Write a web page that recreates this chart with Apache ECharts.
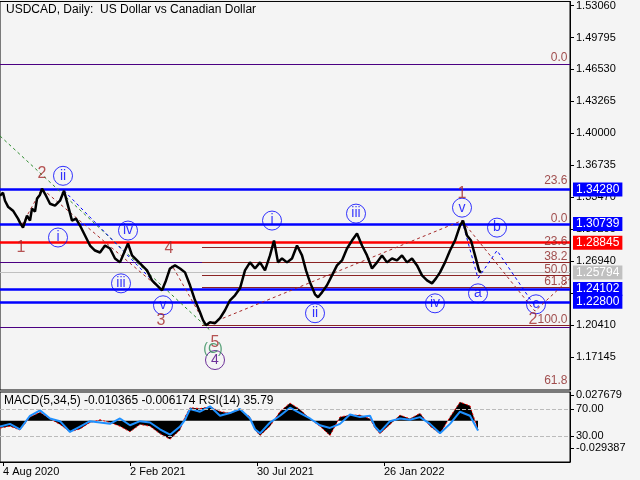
<!DOCTYPE html>
<html><head><meta charset="utf-8">
<script src="https://cdn.jsdelivr.net/npm/echarts@6/dist/echarts.min.js"></script>
<style>html,body{margin:0;background:#f4f4f4}#c{width:640px;height:480px}</style>
</head><body><div id="c"></div>
<script>
// bar index (daily bars) and close prices
const barIdx=[0,3,5,8,10,13,15,18,20,23,27,30,32,35,37,40,42,46,50,55,60,64,68,72,76,80,85,90,95,100,105,110,115,120,125,128,132,137,142,147,152,157,162,166,170,175,180,185,190,195,200,203,206,210,215,220,225,230,235,240,245,250,255,260,265,270,274,278,282,287,292,297,302,306,310,315,318,322,327,332,337,342,347,352,357,362,367,372,377,382,387,392,397,402,407,412,417,422,427,432,436,440,445,450,455,460,463,467,471,475,479,481];
const closes=[1.3364,1.3394,1.3313,1.3252,1.3262,1.3211,1.3191,1.3130,1.3089,1.3038,1.3160,1.3110,1.3232,1.3201,1.3333,1.3374,1.3435,1.3364,1.3282,1.3262,1.3313,1.3415,1.3262,1.3110,1.3130,1.3059,1.2957,1.2855,1.2804,1.2784,1.2855,1.2825,1.2723,1.2683,1.2804,1.2876,1.2754,1.2703,1.2652,1.2601,1.2499,1.2449,1.2398,1.2499,1.2621,1.2652,1.2621,1.2581,1.2449,1.2296,1.2174,1.2093,1.2042,1.2072,1.2062,1.2113,1.2194,1.2296,1.2347,1.2418,1.2601,1.2683,1.2621,1.2683,1.2601,1.2754,1.2906,1.2683,1.2723,1.2683,1.2723,1.2855,1.2754,1.2601,1.2479,1.2357,1.2327,1.2377,1.2449,1.2550,1.2652,1.2703,1.2825,1.2906,1.2977,1.2855,1.2754,1.2621,1.2683,1.2754,1.2683,1.2723,1.2703,1.2754,1.2683,1.2723,1.2652,1.2550,1.2499,1.2469,1.2520,1.2581,1.2683,1.2804,1.2906,1.3059,1.3110,1.2957,1.2906,1.2754,1.2601,1.2579];
// oscillator samples (every ~10 bars)
const oscIdx=[0,10,20,30,40,50,60,70,80,90,100,110,120,130,140,150,160,170,180,185,190,200,210,220,230,240,250,255,260,270,280,290,300,310,320,330,340,350,360,370,375,380,390,400,410,420,430,440,450,460,470,478];
const macdHist=[-0.008,-0.006,-0.010,0.004,0.009,0.002,-0.004,-0.012,-0.009,-0.002,0.001,-0.002,-0.006,-0.012,-0.004,-0.006,-0.014,-0.020,-0.010,0.004,0.014,0.013,0.015,0.010,0.008,0.012,0.004,-0.010,-0.016,-0.006,0.010,0.019,0.012,0.002,-0.006,-0.016,0.004,0.006,0.006,0.002,-0.008,-0.014,-0.004,0.006,0.002,0.008,-0.006,-0.014,0.004,0.020,0.016,-0.010];
const rsi=[44,48,40,60,68,56,52,36,44,52,50,48,56,46,52,50,40,32,44,54,70,66,74,60,64,70,56,40,34,50,60,72,64,56,46,42,48,62,58,60,44,36,52,56,54,58,48,34,48,66,60,38];
const priceTicks=[1.53060,1.49795,1.46530,1.43265,1.40000,1.36735,1.33470,1.30205,1.26940,1.23675,1.20410,1.17145];
const dateTickIdx=[3,130,257,384];
const dateTickLabels=['4 Aug 2020','2 Feb 2021','30 Jul 2021','26 Jan 2022'];
const levelsBlue=[1.34280,1.30739,1.24102,1.22800];
const levelRed=1.28845, lastPrice=1.25794;
const fibLevels=[1.30739,1.2835,1.2680,1.2550,1.2428,1.2041];
const fibNames=['0.0','23.6','38.2','50.0','61.8','100.0'];
const fibOuter=[[1.4777,'0.0'],[1.3516,'23.6'],[1.1478,'61.8']];
// wave labels: [bar, price, text]
const waveMain=[[21,1.2835,'1'],[42,1.3587,'2'],[161,1.2093,'3'],[169,1.2825,'4'],[215,1.1859,'5'],[462,1.3384,'1'],[533,1.2103,'2']];
const waveCircled=[[63,1.3567,'ii'],[58,1.2937,'i'],[128,1.3008,'iv'],[121,1.2469,'iii'],[163,1.2245,'v'],[272,1.3110,'i'],[315,1.2164,'ii'],[356,1.3181,'iii'],[435,1.2265,'iv'],[462,1.3242,'v'],[478,1.2367,'a'],[497,1.3038,'b'],[536,1.2255,'c']];
// wave guide lines
const greenDash=[[0,1.3974],[210,1.1991]];
const redDash1=[[22,1.3068],[42,1.3435],[162,1.2398],[172,1.2652],[206,1.2042],[462,1.3110]];
const blueDash1=[[64,1.3415],[160,1.2418]];
const proj=[[462,1.3110],[478,1.2520],[497,1.2804],[535,1.2235]];
const proj2=[[462,1.3110],[535,1.2185],[570,1.2520]];

const F='Liberation Sans';
const chart=echarts.init(document.getElementById('c'));
const toPts=(xs,ys)=>xs.map((x,i)=>[x,ys[i]]);
const ml=(v,col,w,x0,lbl,bg)=>[{coord:[x0,v],lineStyle:{color:col,width:w,type:'solid'},
  label:lbl?{show:true,position:'end',formatter:lbl,color:'#fff',backgroundColor:bg,padding:[2,3,0,3],fontFamily:F,fontSize:12,distance:3}:{show:false}},{coord:[570,v]}];
const txt=(data,color,size,pos)=>({type:'scatter',xAxisIndex:0,yAxisIndex:0,symbol:'circle',symbolSize:1,z:8,data,
  itemStyle:{color:'rgba(0,0,0,0)'},label:{show:true,formatter:p=>p.data[2],color,fontFamily:F,fontSize:size,position:pos||'inside',distance:0}});
chart.setOption({
 backgroundColor:'#f4f4f4',animation:false,
 grid:[{left:0,top:0,width:570,height:390,borderColor:'#000',show:true,borderWidth:1},
       {left:0,top:392,width:570,height:70,borderColor:'#000',show:true,borderWidth:1}],
 xAxis:[{type:'value',gridIndex:0,min:0,max:570,axisLabel:{show:false},axisTick:{show:false},splitLine:{show:false},axisLine:{show:false}},
        {type:'value',gridIndex:1,min:0,max:570,axisLine:{onZero:false,lineStyle:{color:'#000'}},
         axisTick:{customValues:dateTickIdx,length:4,lineStyle:{color:'#000'}},
         axisLabel:{customValues:dateTickIdx,formatter:v=>dateTickLabels[dateTickIdx.indexOf(v)]||'',color:'#000',fontFamily:F,fontSize:11,margin:4,align:'left'},splitLine:{show:false}}],
 yAxis:[{type:'value',gridIndex:0,position:'right',min:1.1380,max:1.5347,
         axisLine:{show:true,onZero:false,lineStyle:{color:'#000'}},axisTick:{customValues:priceTicks,length:4,lineStyle:{color:'#000'}},
         axisLabel:{customValues:priceTicks,formatter:v=>v.toFixed(5),color:'#000',fontFamily:F,fontSize:11,margin:6},splitLine:{show:false}},
        {type:'value',gridIndex:1,position:'right',min:-0.0445,max:0.0309,
         axisLine:{show:true,onZero:false,lineStyle:{color:'#000'}},axisTick:{customValues:[0.027679,-0.029387],length:4,lineStyle:{color:'#000'}},
         axisLabel:{customValues:[0.027679,-0.029387],formatter:v=>v.toFixed(6),color:'#000',fontFamily:F,fontSize:11,margin:6},splitLine:{show:false}},
        {type:'value',gridIndex:1,position:'right',min:-8.5,max:95.2,
         axisLine:{show:false,onZero:false},axisTick:{customValues:[70,30],length:4,lineStyle:{color:'#000'}},
         axisLabel:{customValues:[70,30],formatter:v=>v.toFixed(2),color:'#000',fontFamily:F,fontSize:11,margin:6},splitLine:{show:false}}],
 series:[
  {type:'line',xAxisIndex:0,yAxisIndex:0,data:toPts(barIdx,closes),symbol:'none',lineStyle:{color:'#000',width:2.5},z:5,
   markLine:{silent:true,symbol:'none',z:2,data:[
     ...levelsBlue.map(v=>ml(v,'#0000ff',2.5,0,v.toFixed(5),'#0000ff')),
     ml(levelRed,'#ff0000',2.5,0,levelRed.toFixed(5),'#ff0000'),
     ml(lastPrice,'#c0c0c0',1,0,lastPrice.toFixed(5),'#c0c0c0'),
     ml(1.4706,'#4b0082',1,0,null),ml(1.2021,'#4b0082',1,0,null),ml(1.2683,'#4b0082',1,0,null),
     ...fibLevels.slice(1).map(v=>ml(v,'#8b2323',1.2,202,null))
   ]}},
  {type:'line',xAxisIndex:0,yAxisIndex:0,data:greenDash,symbol:'none',lineStyle:{color:'#2e8b2e',width:1,type:[3,3]}},
  {type:'line',xAxisIndex:0,yAxisIndex:0,data:redDash1,symbol:'none',lineStyle:{color:'#a52a2a',width:1,type:[3,3]}},
  {type:'line',xAxisIndex:0,yAxisIndex:0,data:blueDash1,symbol:'none',lineStyle:{color:'#0000ff',width:1,type:[3,3]}},
  {type:'line',xAxisIndex:0,yAxisIndex:0,data:proj,symbol:'none',lineStyle:{color:'#0000ff',width:1,type:[3,3]}},
  {type:'line',xAxisIndex:0,yAxisIndex:0,data:proj2,symbol:'none',lineStyle:{color:'#a52a2a',width:1,type:[3,3]}},
  txt(waveMain,'#a52a2a',16),
  {type:'scatter',xAxisIndex:0,yAxisIndex:0,symbol:'circle',symbolSize:19,z:8,data:waveCircled,
   itemStyle:{color:'rgba(255,255,255,0)',borderColor:'#0000ff',borderWidth:1},
   label:{show:true,formatter:p=>p.data[2],color:'#0000ff',fontFamily:F,fontSize:14,position:'inside'}},
  {type:'scatter',xAxisIndex:0,yAxisIndex:0,symbol:'circle',symbolSize:19,z:8,data:[[215,1.1686,'4']],
   itemStyle:{color:'rgba(255,255,255,0)',borderColor:'#4b0082',borderWidth:1},
   label:{show:true,formatter:p=>p.data[2],color:'#4b0082',fontFamily:F,fontSize:14,position:'inside'}},
  txt([[213,1.1798,'(C)']],'#2e8b57',14),
  txt([...fibLevels.map((v,i)=>[568,v+0.006,fibNames[i]]),...fibOuter.map(a=>[568,a[0],a[1]])],'#8b2323',12,'left'),
  {type:'line',xAxisIndex:1,yAxisIndex:1,data:toPts(oscIdx,macdHist),symbol:'none',lineStyle:{color:'#ff0000',width:1,type:[2,2]},areaStyle:{color:'#000',opacity:1,origin:0}},
  {type:'line',xAxisIndex:1,yAxisIndex:2,data:toPts(oscIdx,rsi),symbol:'none',lineStyle:{color:'#1e90ff',width:2},
   markLine:{silent:true,symbol:'none',label:{show:false},lineStyle:{color:'#bbb',type:'dashed',width:1},data:[{yAxis:70},{yAxis:30}]}}
 ],
 graphic:[{type:'text',left:6,top:4,style:{text:'USDCAD, Daily:  US Dollar vs Canadian Dollar',font:'12px '+F,fill:'#000'}},
          {type:'text',left:4,top:395,style:{text:'MACD(5,34,5) -0.010365 -0.006174 RSI(14) 35.79',font:'12px '+F,fill:'#000'}}]
});
</script></body></html>
